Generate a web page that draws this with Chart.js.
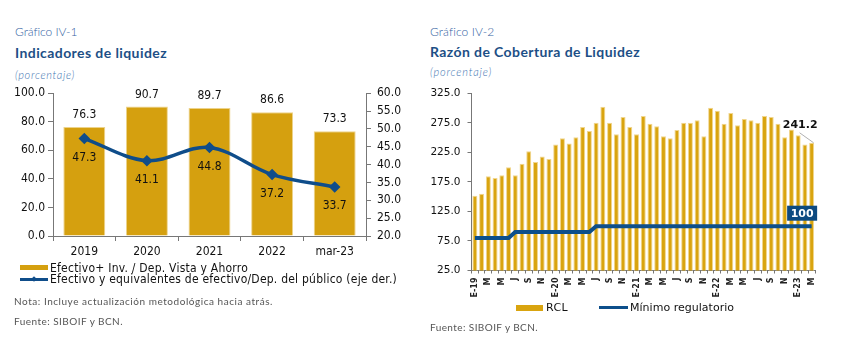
<!DOCTYPE html>
<html><head><meta charset="utf-8">
<script src="https://cdn.jsdelivr.net/npm/chart.js@4/dist/chart.umd.min.js"></script>
<style>
html,body{margin:0;padding:0;background:#fff;}
body{width:851px;height:348px;position:relative;overflow:hidden;font-family:Lato,"Open Sans",sans-serif;}
.t{position:absolute;white-space:nowrap;line-height:1;}
.g{color:#3463a3;font-size:12px;font-weight:300;}
.h{color:#1d4f86;font-weight:bold;font-size:14px;}
.p{color:#4577b3;font-style:italic;font-size:11px;font-weight:300;}
.n{color:#555;font-size:10px;}
.lg{font-family:"DejaVu Sans Condensed","DejaVu Sans",sans-serif;font-size:12px;color:#111;}
.lg2{font-family:"DejaVu Sans",sans-serif;font-size:11px;color:#111;}
.sw{position:absolute;}
#c1{position:absolute;left:0;top:80px;}
#c2{position:absolute;left:420px;top:80px;}
</style>
</head>
<body>
<div class="t g" data-w="62" style="left:15px;top:26px;">Gráfico IV-1</div>
<div class="t h" data-w="152" style="left:15px;top:46px;">Indicadores de liquidez</div>
<div class="t p" data-w="60" style="left:15px;top:69px;">(porcentaje)</div>

<div class="t g" data-w="64" style="left:430px;top:26px;">Gráfico IV-2</div>
<div class="t h" data-w="210" style="left:430px;top:45px;">Razón de Cobertura de Liquidez</div>
<div class="t p" data-w="62" style="left:430px;top:66px;">(porcentaje)</div>

<canvas id="c1" width="420" height="185"></canvas>
<canvas id="c2" width="431" height="225"></canvas>

<div class="sw" style="left:20px;top:265px;width:28px;height:5px;background:#D5A00F;"></div>
<div class="t lg" data-w="198" style="left:50px;top:262px;">Efectivo+ Inv. / Dep. Vista y Ahorro</div>
<div class="sw" style="left:20px;top:277.5px;width:28px;height:3px;background:#0F4D8A;"></div>
<div class="sw" style="left:31.5px;top:276.5px;width:4px;height:4px;background:#0F4D8A;transform:rotate(45deg);"></div>
<div class="t lg" data-w="347" style="left:50px;top:273px;">Efectivo y equivalentes de efectivo/Dep. del público (eje der.)</div>

<div class="t n" data-w="259" style="left:14px;top:296px;">Nota: Incluye actualización metodológica hacia atrás.</div>
<div class="t n" data-w="109" style="left:14px;top:316px;">Fuente: SIBOIF y BCN.</div>

<div class="sw" style="left:516px;top:305px;width:27px;height:6px;background:#D9A40F;"></div>
<div class="t lg2" data-w="22" style="left:546px;top:302px;">RCL</div>
<div class="sw" style="left:599px;top:306px;width:29px;height:3px;background:#0D4F8B;"></div>
<div class="t lg2" data-w="104" style="left:630px;top:302px;">Mínimo regulatorio</div>
<div class="t n" data-w="108" style="left:430px;top:322px;">Fuente: SIBOIF y BCN.</div>

<script>
// ---------- Data: Gráfico IV-1 ----------
const years = ['2019', '2020', '2021', '2022', 'mar-23'];
const efectivoInv = [76.3, 90.7, 89.7, 86.6, 73.3];
const efectivoEquiv = [47.3, 41.1, 44.8, 37.2, 33.7];
const leftTicks = [0, 20, 40, 60, 80, 100];
const rightTicks = [20, 25, 30, 35, 40, 45, 50, 55, 60];

// ---------- Data: Gráfico IV-2 ----------
const monthLabels = [
  'E-19','F','M','A','M','J','J','A','S','O','N','D',
  'E-20','F','M','A','M','J','J','A','S','O','N','D',
  'E-21','F','M','A','M','J','J','A','S','O','N','D',
  'E-22','F','M','A','M','J','J','A','S','O','N','D',
  'E-23','F','M'
];
const rcl = [
  151.7, 155.0, 184.4, 181.7, 186.1, 200.0, 186.1, 205.6, 226.7, 208.9, 217.8, 213.9,
  238.3, 248.9, 240.0, 250.6, 267.8, 261.1, 275.0, 302.2, 275.0, 255.6, 285.0, 267.8,
  255.6, 286.7, 273.3, 269.4, 252.2, 248.9, 262.8, 275.0, 275.0, 279.4, 252.2, 300.6,
  295.6, 273.3, 291.7, 271.1, 281.7, 279.4, 275.0, 286.7, 285.0, 273.3, 250.6, 263.9,
  253.9, 238.3, 241.2
];
const minimo = [
  80, 80, 80, 80, 80, 80, 90, 90, 90, 90, 90, 90,
  90, 90, 90, 90, 90, 90, 100, 100, 100, 100, 100, 100,
  100, 100, 100, 100, 100, 100, 100, 100, 100, 100, 100, 100,
  100, 100, 100, 100, 100, 100, 100, 100, 100, 100, 100, 100,
  100, 100, 100
];
const rclTicks = [25, 75, 125, 175, 225, 275, 325];

// ---------- fit text widths ----------
document.querySelectorAll('[data-w]').forEach(el => {
  const target = parseFloat(el.dataset.w);
  const w = el.getBoundingClientRect().width;
  const n = el.textContent.length;
  el.style.letterSpacing = ((target - w) / n) + 'px';
});

const FT = "'DejaVu Sans Condensed','DejaVu Sans',sans-serif";
const FT2 = "'DejaVu Sans',sans-serif";
const GOLD = '#D5A00F', GOLD2 = '#D9A40F', BLUE = '#0F4D8A', BLUE2 = '#0D4F8B', AX = '#777';

const labels1 = {
  id: 'labels1',
  afterDatasetsDraw(chart) {
    const c = chart.ctx; c.save();
    c.font = '12px ' + FT; c.fillStyle = '#111'; c.textAlign = 'center'; c.textBaseline = 'middle';
    chart.getDatasetMeta(1).data.forEach((el, i) => c.fillText(efectivoInv[i].toFixed(1), el.x, el.y - 12));
    chart.getDatasetMeta(0).data.forEach((el, i) => c.fillText(efectivoEquiv[i].toFixed(1), el.x, el.y + 19));
    c.restore();
  }
};

new Chart(document.getElementById('c1'), {
  type: 'bar',
  data: {
    labels: years,
    datasets: [
      { type: 'line', label: 'Efectivo y equivalentes de efectivo/Dep. del público (eje der.)',
        data: efectivoEquiv, yAxisID: 'y1', borderColor: BLUE, backgroundColor: BLUE,
        borderWidth: 3.5, tension: 0.35, pointStyle: 'rectRot', pointRadius: 3.3,
        pointBackgroundColor: BLUE, pointBorderColor: BLUE, order: 0 },
      { type: 'bar', label: 'Efectivo+ Inv. / Dep. Vista y Ahorro', data: efectivoInv, yAxisID: 'y',
        backgroundColor: GOLD, borderColor: '#EDD38A', borderWidth: 1,
        barPercentage: 0.67, categoryPercentage: 1, order: 1 }
    ]
  },
  options: {
    responsive: false, animation: false,
    plugins: { legend: { display: false }, tooltip: { enabled: false } },
    layout: { padding: { top: 10, left: 0, right: 0, bottom: 0 } },
    scales: {
      x: {
        grid: { display: true, drawOnChartArea: false, tickLength: 5, color: AX, offset: true },
        border: { color: AX },
        ticks: { font: { family: FT, size: 12 }, color: '#111', padding: 4 },
        afterFit(s) { s.height = 29; }
      },
      y: {
        position: 'left', min: 0, max: 100,
        afterBuildTicks(s) { s.ticks = leftTicks.map(v => ({ value: v })); },
        ticks: { callback: v => Number(v).toFixed(1), font: { family: FT, size: 12 }, color: '#111', padding: 3 },
        grid: { drawOnChartArea: false, tickLength: 5, color: AX },
        border: { color: AX },
        afterFit(s) { s.width = 53; }
      },
      y1: {
        position: 'right', min: 20, max: 60,
        afterBuildTicks(s) { s.ticks = rightTicks.map(v => ({ value: v })); },
        ticks: { callback: v => Number(v).toFixed(1), font: { family: FT, size: 12 }, color: '#111', padding: 6 },
        grid: { drawOnChartArea: false, tickLength: 5, color: AX },
        border: { color: AX },
        afterFit(s) { s.width = 54; }
      }
    }
  },
  plugins: [labels1]
});

const labels2 = {
  id: 'labels2',
  afterDatasetsDraw(chart) {
    const c = chart.ctx;
    const bars = chart.getDatasetMeta(1).data, line = chart.getDatasetMeta(0).data;
    const last = bars.length - 1;
    const lb = bars[last], lp = line[last];
    c.save();
    c.strokeStyle = '#b0b0b0'; c.lineWidth = 1;
    c.beginPath(); c.moveTo(lb.x - 12, lb.y - 10); c.lineTo(lb.x + 2, lb.y); c.stroke();
    c.font = 'bold 11px ' + FT2; c.fillStyle = '#111'; c.textAlign = 'center'; c.textBaseline = 'middle';
    c.fillText(rcl[last].toFixed(1), lb.x - 11.5, lb.y - 18);
    const bx = lp.x - 9.5, by = lp.y - 13;
    c.fillStyle = '#0D4A80'; c.fillRect(bx - 15, by - 7.5, 30, 15);
    c.fillStyle = '#fff';
    c.fillText(String(minimo[last]), bx, by + 0.5);
    c.restore();
  }
};

new Chart(document.getElementById('c2'), {
  type: 'bar',
  data: {
    labels: monthLabels,
    datasets: [
      { type: 'line', label: 'Mínimo regulatorio', data: minimo, borderColor: BLUE2, backgroundColor: BLUE2,
        borderWidth: 4, pointRadius: 0, tension: 0, order: 0 },
      { type: 'bar', label: 'RCL', data: rcl, backgroundColor: GOLD2, borderColor: '#F1D68E', borderWidth: 1,
        barPercentage: 0.74, categoryPercentage: 1, order: 1 }
    ]
  },
  options: {
    responsive: false, animation: false,
    plugins: { legend: { display: false }, tooltip: { enabled: false } },
    layout: { padding: { top: 10.5, right: 36, left: 0, bottom: 0 } },
    scales: {
      x: {
        grid: { display: true, drawOnChartArea: false, tickLength: 3, color: AX, offset: true },
        border: { color: AX },
        ticks: { autoSkip: false, minRotation: 90, maxRotation: 90,
          callback: (v, i) => (i % 2 === 0 ? monthLabels[i] : ''),
          font: { family: FT2, size: 8, weight: 'bold' }, color: '#222', padding: 4 },
        afterFit(s) { s.height = 34.5; }
      },
      y: {
        min: 25, max: 325,
        afterBuildTicks(s) { s.ticks = rclTicks.map(v => ({ value: v })); },
        ticks: { callback: v => Number(v).toFixed(1), font: { family: FT2, size: 10.5 }, color: '#111', padding: 7 },
        grid: { drawOnChartArea: false, tickLength: 4, color: AX },
        border: { color: AX },
        afterFit(s) { s.width = 51.5; }
      }
    }
  },
  plugins: [labels2]
});
</script>
</body></html>
